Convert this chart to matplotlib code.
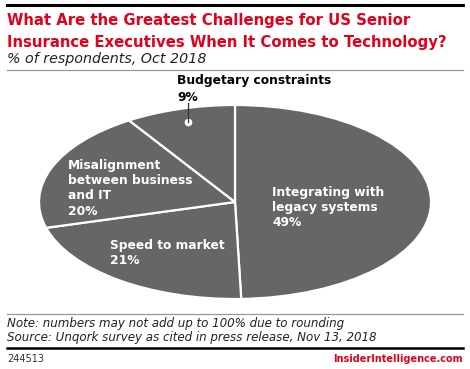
import matplotlib
matplotlib.use("Agg")
import matplotlib.pyplot as plt
from matplotlib.lines import Line2D
import numpy as np

categories = ["Integrating with\nlegacy systems", "Speed to market",
              "Misalignment\nbetween business\nand IT", "Budgetary constraints"]
values = [49, 21, 20, 9]

W, H = 470, 369
fig = plt.figure(figsize=(W / 100, H / 100), dpi=100)
fig.patch.set_facecolor("white")

def fx(x):
    return x / W

def fy(y):
    return 1 - y / H

RED = "#e3001b"
GRAY = "#666666"

# header / footer rules
fig.add_artist(Line2D([fx(7), fx(463)], [fy(5), fy(5)], color="black", lw=2.2))
fig.add_artist(Line2D([fx(7), fx(463)], [fy(70), fy(70)], color="#999999", lw=0.9))
fig.add_artist(Line2D([fx(7), fx(463)], [fy(314), fy(314)], color="#999999", lw=0.9))
fig.add_artist(Line2D([fx(7), fx(463)], [fy(347.5), fy(347.5)], color="black", lw=1.8))

fig.text(fx(7), fy(21), "What Are the Greatest Challenges for US Senior",
         color=RED, fontsize=10.7, fontweight="bold", va="center", ha="left")
fig.text(fx(7), fy(42), "Insurance Executives When It Comes to Technology?",
         color=RED, fontsize=10.7, fontweight="bold", va="center", ha="left")
fig.text(fx(7), fy(59), "% of respondents, Oct 2018", color="#222222",
         fontsize=10.3, style="italic", va="center", ha="left")

fig.text(fx(7), fy(323), "Note: numbers may not add up to 100% due to rounding",
         color="#222222", fontsize=8.6, style="italic", va="center", ha="left")
fig.text(fx(7), fy(337), "Source: Unqork survey as cited in press release, Nov 13, 2018",
         color="#222222", fontsize=8.6, style="italic", va="center", ha="left")
fig.text(fx(7), fy(359), "244513", color="#333333", fontsize=7, va="center", ha="left")
fig.text(fx(463), fy(359), "InsiderIntelligence.com", color=RED, fontsize=7,
         fontweight="bold", va="center", ha="right")

# pie (ellipse)
left, right, top, bottom = 39, 431, 105, 299
ax = fig.add_axes([fx(left), fy(bottom), (right - left) / W, (bottom - top) / H])
wedges, _ = ax.pie(values, startangle=90, counterclock=False, colors=[GRAY] * 4,
                   wedgeprops=dict(edgecolor="white", linewidth=1.6))
ax.set_aspect("auto")
ax.set_xlim(-1, 1)
ax.set_ylim(-1, 1)
ax.axis("off")

# labels inside
lab_kw = dict(color="white", fontsize=8.8, fontweight="bold", ha="left", va="top",
              linespacing=1.22)
fig.text(fx(272), fy(186), f"{categories[0]}\n{values[0]}%", **lab_kw)
fig.text(fx(68), fy(159), f"{categories[2]}\n{values[2]}%", **lab_kw)
fig.text(fx(110), fy(239), f"{categories[1]}\n{values[1]}%", **lab_kw)

# budgetary label above with leader
w = wedges[3]
mid = np.deg2rad((w.theta1 + w.theta2) / 2)
r = 0.86
dx, dy = r * np.cos(mid), r * np.sin(mid)
ax.plot([dx], [dy], "o", color="white", ms=4.5, clip_on=False)
ax.plot([dx, dx], [dy, 1.02], color="#333333", lw=0.9, clip_on=False)
fig.text(fx(177), fy(74), categories[3], color="black", fontsize=8.8,
         fontweight="bold", ha="left", va="top")
fig.text(fx(177), fy(91), f"{values[3]}%", color="black", fontsize=8.8,
         fontweight="bold", ha="left", va="top")

fig.savefig("out.png", dpi=100, facecolor="white")
